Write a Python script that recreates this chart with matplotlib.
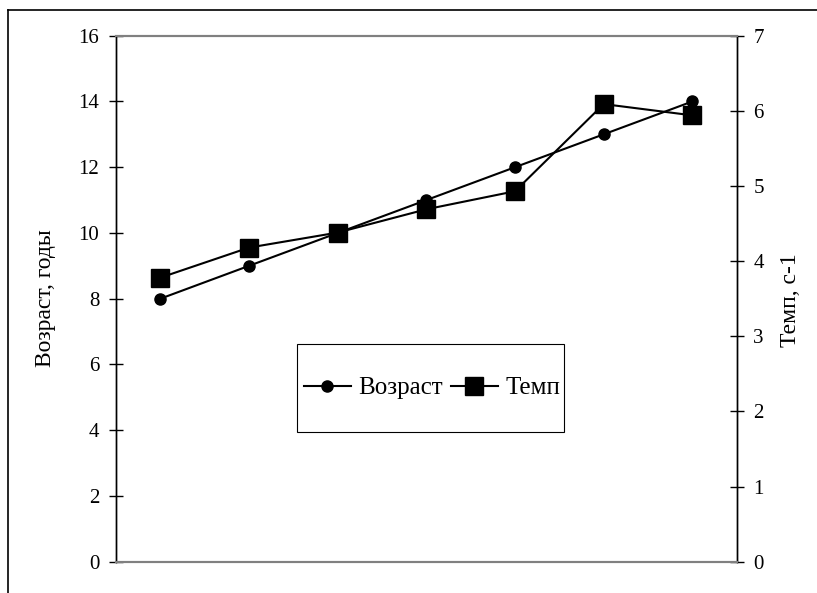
import matplotlib
matplotlib.use("Agg")
import matplotlib.pyplot as plt
from matplotlib.lines import Line2D
from matplotlib.patches import Rectangle

plt.rcParams['font.family'] = ['Liberation Serif', 'DejaVu Serif']

# data
positions = [0.5, 1.5, 2.5, 3.5, 4.5, 5.5, 6.5]
age = [8, 9, 10, 11, 12, 13, 14]
tempo = [3.78, 4.18, 4.38, 4.69, 4.93, 6.09, 5.94]
left_ticks = [0, 2, 4, 6, 8, 10, 12, 14, 16]
right_ticks = [0, 1, 2, 3, 4, 5, 6, 7]
left_label = "Возраст, годы"
right_label = "Темп, с-1"
series_names = ["Возраст", "Темп"]

W, H = 817, 593
fig = plt.figure(figsize=(W / 100, H / 100), dpi=100)
x0, x1, y0, y1 = 116, 736.7, 561.7, 35.7
l, r, b, t = x0 / W, x1 / W, 1 - y0 / H, 1 - y1 / H
ax = fig.add_axes([l, b, r - l, t - b])
ax2 = ax.twinx()

ax.set_xlim(0, 7)
ax.set_ylim(0, 16)
ax2.set_ylim(0, 7)
ax.set_xticks([])

ax.plot(positions, age, color='black', lw=1.5, marker='o', ms=8, zorder=3)
ax2.plot(positions, tempo, color='black', lw=1.5, marker='s', ms=12.5, zorder=3)

for a in (ax, ax2):
    a.spines['top'].set_color('#808080')
    a.spines['bottom'].set_color('#808080')
    a.spines['top'].set_linewidth(1.5)
    a.spines['bottom'].set_linewidth(1.5)
    a.spines['left'].set_linewidth(1.0)
    a.spines['right'].set_linewidth(1.0)

ax.set_yticks(left_ticks)
ax2.set_yticks(right_ticks)
ax.tick_params(axis='y', direction='inout', length=10, width=1, labelsize=15, pad=7)
ax2.tick_params(axis='y', direction='inout', length=10, width=1, labelsize=15, pad=7)

def fx(px):
    return (px - x0) / (x1 - x0)

def fy(py):
    return (y0 - py) / (y0 - y1)

ax.set_ylabel(left_label, fontsize=17, va='center')
ax.yaxis.set_label_coords(fx(45), fy(298))
ax2.set_ylabel(right_label, fontsize=17, va='center', rotation=90)
ax2.yaxis.set_label_coords(fx(791), fy(300))

# legend
handles = [Line2D([], [], color='black', lw=1.5, marker='o', ms=8),
           Line2D([], [], color='black', lw=1.5, marker='s', ms=12.5)]
leg = fig.legend(handles, series_names, loc='center', ncol=2, frameon=False,
                 bbox_to_anchor=(432 / W, 1 - 388 / H), fontsize=18,
                 handlelength=1.9, handletextpad=0.3, columnspacing=0.3)
fig.add_artist(Rectangle((297 / W, 1 - 432 / H), (564 - 297) / W, (432 - 344) / H,
                         transform=fig.transFigure, fill=False, edgecolor='black', lw=0.8))

# outer frame
fig.add_artist(Line2D([8 / W, 8 / W], [0, 1 - 10 / H], transform=fig.transFigure, color='black', lw=1.2))
fig.add_artist(Line2D([8 / W, 1], [1 - 10 / H, 1 - 10 / H], transform=fig.transFigure, color='black', lw=1.2))

fig.savefig("out.png", dpi=100)
